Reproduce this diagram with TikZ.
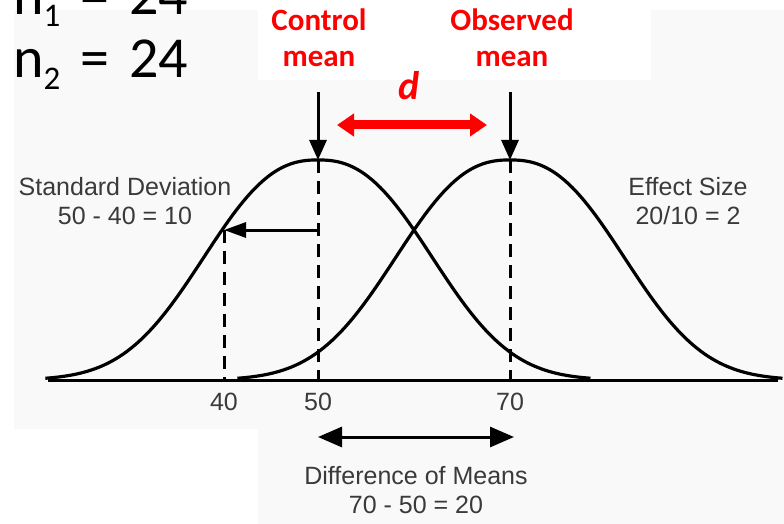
\documentclass[tikz,border=0pt]{standalone}
\usepackage{fontspec}
\setmainfont{Liberation Sans}
\newfontfamily\calibri{Carlito}
\usetikzlibrary{arrows.meta}

\definecolor{slidebg}{HTML}{F9F9F9}
\definecolor{labelgray}{HTML}{3A3A3A}
\definecolor{accentred}{HTML}{FF0000}

\begin{document}
\begin{tikzpicture}[
    x=1pt,
    y=-1pt,
    font=\fontsize{25}{29}\selectfont,
    curve/.style={line width=3.2pt, line join=round},
    guide/.style={line width=3pt, dash pattern=on 13pt off 8pt},
    pointer/.style={line width=3pt, -{Triangle[width=17pt,length=20pt]}},
    graylabel/.style={text=labelgray, align=center, inner sep=0pt},
    redlabel/.style={text=accentred, align=center, inner sep=0pt,
      font=\calibri\bfseries\fontsize{31}{36}\selectfont}
  ]
    \useasboundingbox (0,0) rectangle (784,524);
    \clip (0,0) rectangle (784,524);

    % Fondo de la diapositiva
    \fill[white] (0,0) rectangle (784,524);
    \fill[slidebg] (14,10) -- (784,10) -- (784,524) -- (258,524)
      -- (258,429) -- (14,429) -- cycle;
    \fill[white] (258,0) rectangle (651,80);

    % Tamanos de muestra
    \node[anchor=base west, inner sep=0pt, font=\calibri\fontsize{58}{63}\selectfont]
      (nfirst) at (13,15) {n{\fontsize{33}{33}\selectfont\raisebox{-12pt}{1}}\hspace{7pt} =\hspace{7pt} 24};
    \node[anchor=base west, inner sep=0pt, font=\calibri\fontsize{58}{63}\selectfont]
      (nsecond) at (13,78) {n{\fontsize{33}{33}\selectfont\raisebox{-12pt}{2}}\hspace{7pt} =\hspace{7pt} 24};

    % Puntos clave (medias = 50 y 70, una desviacion = 96)
    \coordinate (axl) at (48,380);
    \coordinate (axr) at (778,380);
    \coordinate (cmean) at (318,160);
    \coordinate (omean) at (510,160);
    \coordinate (ctop) at (318,92);
    \coordinate (otop) at (510,92);
    \coordinate (cbase) at (318,380);
    \coordinate (obase) at (510,380);
    \coordinate (sdcorner) at (318,230);
    \coordinate (sdleft) at (224,230);
    \coordinate (sdbase) at (224,380);

    % Curvas
    \draw[curve] plot[domain=-2.84:2.84, samples=141]
      ({318+96*\x}, {380-220*exp(-1*pow(abs(\x)+0.0001,2.43)/2.61)});
    \draw[curve] plot[domain=-2.84:2.84, samples=141]
      ({510+96*\x}, {380-220*exp(-1*pow(abs(\x)+0.0001,2.43)/2.61)});
    \draw[line width=3pt] (axl) -- (axr);

    % Guias discontinuas
    \draw[guide] (cmean) -- (cbase);
    \draw[guide] (omean) -- (obase);
    \draw[guide] (sdleft) -- (sdbase);

    % Flechas
    \draw[pointer] (ctop) -- (cmean);
    \draw[pointer] (otop) -- (omean);
    \draw[line width=3pt, -{Triangle[width=15pt,length=22pt]}] (sdcorner) -- (sdleft);

    \coordinate (dml) at (318,437);
    \coordinate (dmr) at (514,437);
    \draw[line width=3pt, {Triangle[width=20pt,length=24pt]}-{Triangle[width=20pt,length=24pt]}]
      (dml) -- (dmr);

    \coordinate (dal) at (337,125);
    \coordinate (dar) at (487,125);
    \draw[accentred, line width=9pt, {Triangle[width=22pt,length=17pt]}-{Triangle[width=22pt,length=17pt]}]
      (dal) -- (dar);

    % Etiquetas
    \node[redlabel] (ctrl) at (319,38) {Control\\mean};
    \node[redlabel] (obsv) at (512,38) {Observed\\mean};
    \node[anchor=base, inner sep=0pt, text=accentred,
      font=\calibri\bfseries\itshape\fontsize{40}{40}\selectfont] (dlab) at (409,100) {d};

    \node[graylabel] (sdtext) at (125,201) {Standard Deviation\\50 - 40 = 10};
    \node[graylabel] (estext) at (688,201) {Effect Size\\20/10 = 2};
    \node[graylabel, anchor=base] (lab40) at (224,410) {40};
    \node[graylabel, anchor=base] (lab50) at (318,410) {50};
    \node[graylabel, anchor=base] (lab70) at (510,410) {70};
    \node[graylabel] (dmtext) at (416,490) {Difference of Means\\70 - 50 = 20};
  \end{tikzpicture}
\end{document}
